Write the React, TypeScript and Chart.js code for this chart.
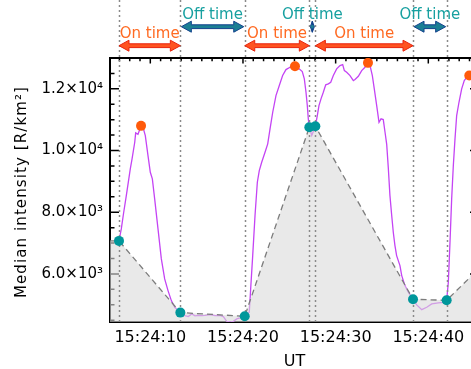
import React, { useEffect, useRef } from 'react';
import { Chart, registerables } from 'chart.js';

Chart.register(...registerables);

// Time in seconds after 15:24:00 UT
const curveTimes = [
  6.62, 6.87, 7.13, 7.41, 7.84, 8.03, 8.32, 8.42, 8.67, 8.78, 9.0, 9.21, 9.46, 9.75, 10.0, 10.22, 10.47, 10.83,
  11.19, 11.55, 11.91, 12.27, 12.63, 13.24, 13.74, 14.1, 14.47, 14.82, 15.18, 15.55, 15.9, 16.44, 16.98, 17.52,
  17.88, 18.24, 18.6, 18.96, 19.33, 19.68, 20.19, 20.68, 20.83, 21.05, 21.3, 21.55, 21.76, 22.02, 22.38, 22.67,
  22.92, 23.21, 23.56, 23.92, 24.28, 24.64, 25.07, 25.61, 26.15, 26.4, 26.62, 26.8, 26.94, 27.05, 27.16, 27.42,
  27.81, 28.02, 28.2, 28.42, 28.67, 28.93, 29.21, 29.47, 29.75, 30.11, 30.47, 30.76, 30.94, 31.19, 31.55, 31.91,
  32.09, 32.45, 32.81, 33.17, 33.49, 33.71, 33.96, 34.17, 34.43, 34.68, 34.9, 35.14, 35.33, 35.51, 35.68, 35.86,
  36.05, 36.22, 36.4, 36.58, 36.94, 37.13, 37.48, 37.84, 38.35, 38.75, 39.29, 39.83, 40.37, 41.08, 41.62, 41.98,
  42.16, 42.34, 42.52, 42.7, 42.88, 43.06, 43.31, 43.6, 43.88, 44.14, 44.42,
];
const curveValues = [
  7070, 7459, 7998, 8539, 9405, 9729, 10268, 10573, 10527, 10615, 10800, 10755, 10485, 9836, 9295, 9081, 8432, 7459,
  6486, 5838, 5458, 5134, 4917, 4745, 4648, 4615, 4703, 4638, 4657, 4648, 4657, 4680, 4648, 4657,
  4615, 4463, 4440, 4463, 4540, 4573, 4625, 4755, 5513, 6593, 7891, 8971, 9350, 9619, 9944, 10216,
  10702, 11241, 11782, 12107, 12431, 12625, 12700, 12733, 12625, 12561, 12324, 11889, 11458, 11027, 10754, 10485,
  10787, 11134, 11458, 11675, 11889, 12129, 12162, 12214, 12431, 12648, 12755, 12788, 12593, 12538, 12431, 12269,
  12301, 12409, 12593, 12700, 12843, 12755, 12431, 11999, 11458, 10916, 11027, 11004, 10592, 10200, 9450, 8539,
  7891, 7350, 6918, 6593, 6269, 5945, 5621, 5405, 5176, 4995, 4842, 4917, 5027, 5060, 5079, 5144,
  5728, 7025, 8432, 9512, 10378, 11134, 11565, 11999, 12269, 12376, 12431,
];

const troughTimes = [6.62, 13.24, 20.19, 27.16, 27.81, 38.35, 41.98];
const troughValues = [7070, 4745, 4625, 10754, 10787, 5176, 5144];

const peakTimes = [9.0, 25.61, 33.49, 44.42];
const peakValues = [10800, 12733, 12843, 12431];

const envelopeTimes = [5.65, 6.62, 13.24, 20.19, 27.16, 27.81, 38.35, 41.98, 45.47];
const envelopeValues = [7070, 7070, 4745, 4625, 10754, 10787, 5176, 5144, 6170];

const intervalKinds = ['On', 'Off', 'On', 'Off', 'On', 'Off'];
const intervalLabels: Record<string, string> = { On: 'On time', Off: 'Off time' };

const xTickValues = [10, 20, 30, 40];
const xTickLabels = ['15:24:10', '15:24:20', '15:24:30', '15:24:40'];
const yTickValues = [6000, 8000, 10000, 12000];
const yTickLabels = ['6.0×10³', '8.0×10³', '1.0×10⁴', '1.2×10⁴'];
const yTitle = 'Median intensity [R/km²]';
const xTitle = 'UT';

const X_MIN = 5.65;
const X_MAX = 45.47;
const Y_MIN = 4440;
const Y_MAX = 13000;
const Y_MINOR = 500;
const X_MINOR = 10 / 9;

const FONT = 'DejaVu Sans';

function drawArrow(ctx: CanvasRenderingContext2D, x1: number, x2: number, y: number, fill: string, stroke: string) {
  const w = x2 - x1;
  const hl = Math.min(10, w / 2);
  const hh = 5.5;
  const sh = 1.9;
  ctx.beginPath();
  ctx.moveTo(x1, y);
  ctx.lineTo(x1 + hl, y - hh);
  ctx.lineTo(x1 + hl, y - sh);
  ctx.lineTo(x2 - hl, y - sh);
  ctx.lineTo(x2 - hl, y - hh);
  ctx.lineTo(x2, y);
  ctx.lineTo(x2 - hl, y + hh);
  ctx.lineTo(x2 - hl, y + sh);
  ctx.lineTo(x1 + hl, y + sh);
  ctx.lineTo(x1 + hl, y + hh);
  ctx.closePath();
  ctx.fillStyle = fill;
  ctx.fill();
  ctx.strokeStyle = stroke;
  ctx.lineWidth = 1;
  ctx.setLineDash([]);
  ctx.stroke();
}

const decorPlugin = {
  id: 'decor',
  beforeDatasetsDraw(chart: any) {
    const ctx: CanvasRenderingContext2D = chart.ctx;
    const { left, right, top, bottom } = chart.chartArea;
    const xs = chart.scales.x;
    const ys = chart.scales.y;
    ctx.save();
    ctx.strokeStyle = '#000';
    ctx.lineWidth = 2;
    ctx.beginPath();
    ctx.rect(left, top, right - left, bottom - top);
    ctx.stroke();
    ctx.lineWidth = 1.5;
    ctx.beginPath();
    for (let v = Math.ceil(Y_MIN / Y_MINOR) * Y_MINOR; v < Y_MAX; v += Y_MINOR) {
      const y = ys.getPixelForValue(v);
      const len = yTickValues.includes(v) ? 9 : 4.5;
      ctx.moveTo(left, y);
      ctx.lineTo(left + len, y);
      ctx.moveTo(right, y);
      ctx.lineTo(right - len, y);
    }
    for (let k = -10; k <= 40; k++) {
      const t = 10 + k * X_MINOR;
      if (t <= X_MIN || t >= X_MAX) continue;
      const x = xs.getPixelForValue(t);
      const len = k % 9 === 0 ? 5.5 : 3.3;
      ctx.moveTo(x, top);
      ctx.lineTo(x, top + len);
    }
    ctx.stroke();
    ctx.restore();
  },
  afterDatasetDraw(chart: any, args: any) {
    if (args.index !== 1) return;
    const ctx: CanvasRenderingContext2D = chart.ctx;
    const xs = chart.scales.x;
    const { bottom } = chart.chartArea;
    ctx.save();
    ctx.strokeStyle = '#8a8a8a';
    ctx.lineWidth = 1.5;
    ctx.setLineDash([2, 3]);
    for (const t of troughTimes) {
      const x = Math.round(xs.getPixelForValue(t)) + 0.5;
      ctx.beginPath();
      ctx.moveTo(x, bottom);
      ctx.lineTo(x, 0);
      ctx.stroke();
    }
    ctx.restore();
  },
  afterDraw(chart: any) {
    const ctx: CanvasRenderingContext2D = chart.ctx;
    const xs = chart.scales.x;
    const { top, bottom } = chart.chartArea;
    ctx.save();
    ctx.font = `15px "${FONT}"`;
    ctx.textAlign = 'center';
    ctx.textBaseline = 'alphabetic';
    for (let i = 0; i < intervalKinds.length; i++) {
      const x1 = xs.getPixelForValue(troughTimes[i]);
      const x2 = xs.getPixelForValue(troughTimes[i + 1]);
      const on = intervalKinds[i] === 'On';
      if (on) {
        drawArrow(ctx, x1, x2, 45.7, '#ff5320', '#e8220c');
      } else {
        drawArrow(ctx, x1 + 1, x2 - 1, 26.7, '#1b7f94', '#12408c');
      }
      ctx.fillStyle = on ? '#ff6a22' : '#17a0a0';
      ctx.fillText(intervalLabels[intervalKinds[i]], (x1 + x2) / 2, on ? 37.7 : 19.3);
    }
    // y-axis title with IDL-like spacing
    ctx.translate(22, (top + bottom) / 2 + 2);
    ctx.rotate(-Math.PI / 2);
    ctx.fillStyle = '#000';
    ctx.textBaseline = 'middle';
    (ctx as any).letterSpacing = '1.1px';
    ctx.fillText(yTitle, 0, 0);
    ctx.restore();
  },
};

export default function App() {
  const ref = useRef<HTMLCanvasElement>(null);
  useEffect(() => {
    const canvas = ref.current;
    if (!canvas) return;
    const chart = new Chart(canvas, {
      type: 'line',
      data: {
        datasets: [
          {
            data: curveTimes.map((t, i) => ({ x: t, y: curveValues[i] })),
            borderColor: '#c444f4',
            borderWidth: 1.3,
            pointRadius: 0,
            fill: false,
            tension: 0,
            order: 4,
          },
          {
            data: envelopeTimes.map((t, i) => ({ x: t, y: envelopeValues[i] })),
            borderColor: '#7c7c7c',
            borderWidth: 1.3,
            borderDash: [6, 4],
            pointRadius: 0,
            fill: 'start',
            backgroundColor: 'rgba(218,218,218,0.6)',
            tension: 0,
            order: 3,
          },
          {
            data: troughTimes.map((t, i) => ({ x: t, y: troughValues[i] })),
            showLine: false,
            pointRadius: 5,
            pointBorderWidth: 0,
            pointBackgroundColor: '#00979b',
            pointBorderColor: '#00979b',
            order: 2,
          },
          {
            data: peakTimes.map((t, i) => ({ x: t, y: peakValues[i] })),
            showLine: false,
            pointRadius: 5,
            pointBorderWidth: 0,
            pointBackgroundColor: '#ff5a0a',
            pointBorderColor: '#ff5a0a',
            order: 1,
          },
        ],
      } as any,
      options: {
        responsive: false,
        animation: false,
        devicePixelRatio: 1,
        layout: { padding: { top: 58, right: 9, left: 0, bottom: 0 } },
        plugins: { legend: { display: false }, tooltip: { enabled: false } },
        scales: {
          x: {
            type: 'linear',
            min: X_MIN,
            max: X_MAX,
            grid: { display: false, drawTicks: false },
            border: { display: false },
            afterBuildTicks: (s: any) => {
              s.ticks = xTickValues.map((v) => ({ value: v }));
            },
            afterFit: (s: any) => {
              s.height = 47;
            },
            ticks: {
              autoSkip: false,
              maxRotation: 0,
              padding: 6,
              color: '#000',
              font: { family: FONT, size: 16 },
              callback: (v: any) => xTickLabels[xTickValues.indexOf(Number(v))],
            },
            title: {
              display: true,
              text: xTitle,
              color: '#000',
              font: { family: FONT, size: 16 },
              padding: { top: 0, bottom: -2 },
            },
          },
          y: {
            type: 'linear',
            min: Y_MIN,
            max: Y_MAX,
            grid: { display: false, drawTicks: false },
            border: { display: false },
            afterBuildTicks: (s: any) => {
              s.ticks = yTickValues.map((v) => ({ value: v }));
            },
            afterFit: (s: any) => {
              s.width = 110;
            },
            ticks: {
              autoSkip: false,
              padding: 7,
              color: '#000',
              font: { family: FONT, size: 15 },
              callback: (v: any) => yTickLabels[yTickValues.indexOf(Number(v))],
            },
            title: { display: false },
          },
        },
      } as any,
      plugins: [decorPlugin],
    });
    return () => chart.destroy();
  }, []);
  return (
    <div
      style={{
        position: 'fixed',
        left: 0,
        top: 0,
        width: 471,
        height: 369,
        overflow: 'hidden',
        background: '#fff',
      }}
    >
      <canvas ref={ref} width={488} height={369} style={{ display: 'block' }} />
    </div>
  );
}
